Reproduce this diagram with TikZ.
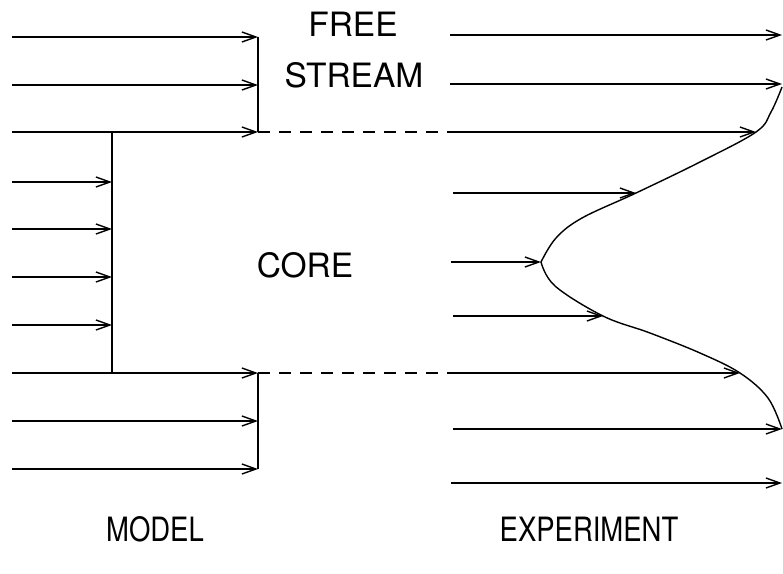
\documentclass[tikz,border=0pt]{standalone}
\usepackage{fontspec}
\setmainfont{TeX Gyre Heros}
\usepackage{tikz}
\usetikzlibrary{arrows.meta}
\usetikzlibrary{positioning}

\begin{document}
\begin{tikzpicture}[x=1pt, y=-1pt, line width=1.4pt,
flow/.style={-{Straight Barb[length=14pt, width=10pt, line width=1.4pt]}},
lbl/.style={anchor=base, inner sep=0pt, font=\fontsize{33.5}{40}\selectfont}]
\useasboundingbox (0,0) rectangle (783,573);
% model: free stream above and below, uniform core
\foreach \y [count=\i] in {37, 85, 132, 373, 421, 469}{
\coordinate (ms\i) at (12,\y);
\coordinate (mt\i) at (258,\y);
\draw[flow] (ms\i) -- (mt\i);}
\foreach \y [count=\i] in {182, 229, 277, 325}{
\coordinate (cs\i) at (12,\y);
\coordinate (ct\i) at (112,\y);
\draw[flow] (cs\i) -- (ct\i);}
\coordinate (ctop) at (112,132);
\coordinate (cbot) at (112,373);
\draw (ctop) -- (cbot);
\draw (mt1) -- (mt3);
\draw (mt4) -- (mt6);
% experiment
\foreach \y/\xs/\xt [count=\i] in {35/450/782, 84/450/782, 132/448/756, 193/453/636,
262/451/541, 316/453/603, 373/448/740, 429/453/782, 483/451/782}{
\coordinate (es\i) at (\xs,\y);
\coordinate (et\i) at (\xt,\y);
\draw[flow] (es\i) -- (et\i);}
\draw[dash pattern=on 12pt off 9pt] (mt3) -- (es3);
\draw[dash pattern=on 12pt off 9pt] (mt4) -- (es7);
\draw plot[smooth, tension=0.6] coordinates {(782,87) (771,112) (756,132) (700,162)
(636,193) (582,218) (556,238) (541,262)};
\draw plot[smooth, tension=0.6] coordinates {(541,262) (555,286) (603,316) (650,333)
(700,353) (740,373) (768,398) (782,429)};
\node[lbl] (free) at (353,36) {FREE};
\node[lbl] (stream) at (354,87) {STREAM};
\node[lbl] (core) at (305,277) {CORE};
\node[lbl, xscale=0.82] (model) at (155,541) {MODEL};
\node[lbl, xscale=0.82] (expt) at (589,541) {EXPERIMENT};
\end{tikzpicture}
\end{document}
